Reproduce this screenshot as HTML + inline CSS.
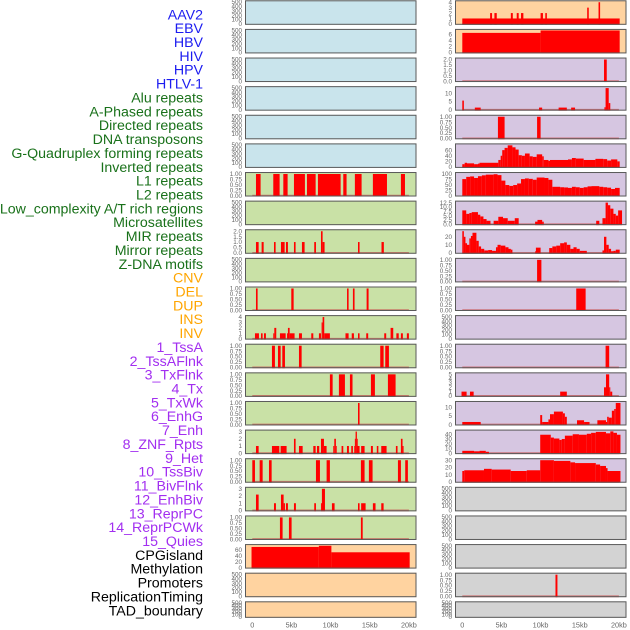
<!DOCTYPE html>
<html><head><meta charset="utf-8"><style>
html,body{margin:0;padding:0;background:#fff;}
svg{display:block;font-family:"Liberation Sans",sans-serif;}
</style></head><body>
<svg id="chart" width="630" height="630" viewBox="0 0 630 630" xmlns="http://www.w3.org/2000/svg"></svg>
<script>
const labelNames = ["AAV2","EBV","HBV","HIV","HPV","HTLV-1","Alu repeats","A-Phased repeats","Directed repeats","DNA transposons","G-Quadruplex forming repeats","Inverted repeats","L1 repeats","L2 repeats","Low_complexity A/T rich regions","Microsatellites","MIR repeats","Mirror repeats","Z-DNA motifs","CNV","DEL","DUP","INS","INV","1_TssA","2_TssAFlnk","3_TxFlnk","4_Tx","5_TxWk","6_EnhG","7_Enh","8_ZNF_Rpts","9_Het","10_TssBiv","11_BivFlnk","12_EnhBiv","13_ReprPC","14_ReprPCWk","15_Quies","CPGisland","Methylation","Promoters","ReplicationTiming","TAD_boundary"];
const labelGroups = [6,13,5,15,5];
const groupColors = ["#1c1cf0","#19711a","#ffa500","#a22ef0","#000000"];
const xTicks = [0,5,10,15,20];
const xTickLabels = ["0","5kb","10kb","15kb","20kb"];

const T500=[0,100,200,300,400,500], T1=[0,0.25,0.5,0.75,1], T2=[0,0.5,1,1.5,2], T3=[0,1,2,3], T4=[0,1,2,3,4], T5=[0,1,2,3,4,5], T6=[0,2,4,6], T10=[0,5,10], T12=[0,2.5,5,7.5,10,12.5], T20=[0,10,20], T30=[0,10,20,30], T40=[0,10,20,30,40], T60=[0,20,40,60], T100=[0,25,50,75,100];

const L6=[[0.47,1.06,1],[2.68,3.49,1],[3.96,4.51,1],[5.32,6.72,1],[6.98,8.09,1],[8.38,11.28,1],[11.62,12.04,1],[13.1,13.96,1],[15.4,17.2,1],[18.98,19.5,1]];
const L8=[[0.47,0.81,1],[1.19,1.45,1],[2.77,2.98,1],[3.66,4.13,1],[4.3,4.55,1],[5.32,5.53,1],[6.34,6.68,1],[7.91,8.13,1],[8.77,8.98,2],[8.98,9.23,1],[13.5,13.7,1],[16.5,16.8,1]];
const L10=[[0.47,0.68,1],[4.98,5.28,1],[12.1,12.3,1],[12.85,13.06,1],[14.6,14.85,1]];
const L11=[[0.34,0.85,1],[1.11,1.32,1],[1.49,1.74,1],[2.68,2.81,1],[2.81,3.06,2],[3.53,4.26,1],[4.43,4.55,1],[4.55,4.77,2],[4.77,5.4,1],[5.96,6.34,1],[7.53,7.79,1],[8.51,8.77,1],[8.85,8.98,3],[8.98,9.19,4],[9.19,9.91,1],[11.9,12.3,1],[12.7,12.98,1],[13.5,13.7,1],[14.55,14.8,1],[16.85,17.1,1],[17.66,18.0,2],[18.4,18.7,1],[18.98,19.23,1],[19.74,20.0,1]];
const L12=[[2.51,2.89,1],[3.28,3.62,1],[3.83,4.17,1],[5.96,6.3,1],[16.34,16.77,1],[16.98,17.45,1]];
const L13=[[9.91,10.26,1],[11.06,11.83,1],[12.47,12.8,1],[15.15,15.66,1],[17.32,18.3,1]];
const L14=[[13.5,13.7,1]];
const L15=[[0.47,0.81,1],[2.51,3.45,1],[3.62,4.38,1],[5.32,5.53,2],[5.96,6.43,1],[7.79,8.09,1],[8.26,8.55,1],[8.77,9.15,2],[9.15,9.49,1],[10.34,10.47,1],[10.47,10.68,2],[10.68,10.77,1],[11.4,11.62,1],[12.09,12.34,1],[12.64,12.85,1],[13.02,13.1,1],[13.1,13.19,2],[13.19,13.36,3],[13.36,13.4,2],[13.4,13.7,1],[13.9,14.34,1],[15.15,15.4,1],[15.9,16.1,1],[16.47,17.15,1],[18.34,18.55,1],[18.98,19.19,2],[19.19,19.32,1]];
const L16=[[0,0.34,1],[0.94,1.32,1],[2.13,2.47,1],[8.13,8.64,1],[9.49,9.91,1],[13.87,14.34,1],[14.89,15.36,1],[18.6,18.98,1],[19.53,19.87,1]];
const L17=[[0.47,0.81,2.2],[2.77,3.02,1],[3.66,4.0,2.2],[4.0,4.17,1],[4.3,4.55,1],[5.32,5.57,1],[7.91,8.13,1],[8.77,8.89,1],[8.89,9.28,3],[10.17,10.51,1],[13.5,13.7,1],[13.9,14.47,1],[15.4,15.74,1],[16.47,16.77,1]];
const L18=[[3.53,3.87,1],[4.68,5.02,1],[13.87,14.1,1]];
const L19=[[-0.1,8.5,70],[8.5,10.1,74],[10.1,20.1,52]];

const R0=[[0,20.1,1],[3.55,3.8,2],[4.1,4.4,2],[6.2,6.45,2],[6.95,7.2,2],[7.5,7.8,2],[10.0,10.3,2],[10.6,10.8,2],[15.95,16.15,3],[17.4,17.6,4]];
const R1=[[0,10,6.5],[10,20.1,7.3]];
const R2=[[18.1,18.45,2]];
const R3=[[0,0.2,5.5],[1.6,2.35,1.3],[9.8,10.2,1.3],[12.3,13.35,1.3],[13.9,14.4,1.3],[18.15,18.3,1.5],[18.3,18.7,13],[18.7,18.9,4]];
const R4=[[4.55,5.4,1],[9.55,10.0,1]];
const R5=[[0,0.3,10],[0.3,0.6,15],[0.6,1.5,13],[1.5,2,10],[2,2.2,12],[2.2,4.6,15],[4.6,4.9,25],[4.9,5.1,40],[5.1,5.4,60],[5.4,5.8,68],[5.8,6.4,77],[6.4,6.8,70],[6.8,7.2,62],[7.2,7.6,42],[7.6,8.0,40],[8.0,8.6,48],[8.6,9,38],[9,9.5,36],[9.5,10.2,45],[10.2,10.4,38],[10.4,11,25],[11,11.2,22],[11.2,13.5,25],[13.5,14,27],[14,14.5,32],[14.5,15.5,30],[15.5,17,25],[17,18,29],[18,18.5,28],[18.5,19,23],[19,19.8,27],[19.8,20.1,20]];
const R6=[[0,0.5,75],[0.5,1,85],[1,1.5,87],[1.5,2,80],[2,2.5,88],[2.5,3,92],[3,4,95],[4,4.5,97],[4.5,5,93],[5,5.5,68],[5.5,6,48],[6,6.5,44],[6.5,7,48],[7,7.5,55],[7.5,8,75],[8,8.5,78],[8.5,9,76],[9,9.5,72],[9.5,10.5,82],[10.5,11,80],[11,11.5,72],[11.5,12.5,40],[12.5,13,38],[13,13.5,37],[13.5,14,35],[14,14.5,40],[14.5,15,38],[15,15.5,35],[15.5,16,38],[16,16.5,42],[16.5,17.5,43],[17.5,18,40],[18,18.5,38],[18.5,19,36],[19,19.5,30],[19.5,20.1,35]];
const R7=[[0,0.5,8],[0.5,0.9,6],[0.9,1.2,6.5],[1.2,2.0,7],[2.0,2.3,5.5],[2.3,2.7,4.5],[2.7,3.1,3],[3.1,3.6,2],[4.0,4.6,2],[4.6,5.2,4.3],[5.2,5.8,3.5],[5.8,6.7,2],[6.7,7.2,3.5],[9.3,9.6,1.5],[9.6,10.2,2.5],[10.2,10.4,1.5],[17.1,17.5,2],[17.9,18.3,3.5],[18.3,18.6,12.5],[18.6,18.9,11],[18.9,19.3,9],[19.3,19.6,6],[19.6,19.9,5],[19.9,20.4,8]];
const R8=[[0,0.2,27],[0.2,0.4,20],[0.4,0.6,12],[0.6,0.9,10],[0.9,1.1,18],[1.1,1.3,21],[1.3,1.8,25],[1.8,2.1,15],[2.1,2.4,8],[2.4,2.8,5],[2.8,3.3,3],[3.3,3.8,3.5],[3.8,4.3,2.5],[4.3,4.5,7],[4.5,4.9,10],[4.9,5.5,9],[5.5,5.9,7],[5.9,6.2,5],[6.2,6.4,4],[9.3,9.4,2],[9.4,10.0,6.5],[11.1,11.5,6],[11.5,12,8],[12,12.5,9],[12.5,13,12],[13,13.35,13],[13.35,13.8,10],[13.8,14.2,5],[14.2,14.6,7],[14.6,15,5],[15,15.9,2.5],[17.9,18.1,3],[18.1,18.4,20],[18.4,18.7,10],[18.7,19,5],[19,19.3,2],[19.3,19.6,2.5],[19.6,20.1,4]];
const R9=[[9.55,10.1,1]];
const R10=[[14.55,15.75,1]];
const R12=[[18.3,18.76,1]];
const R13=[[-0.1,0.55,1],[0.98,1.45,1],[12.5,13.35,1],[18.1,18.35,2],[18.35,18.76,5],[18.76,18.9,2],[18.9,19.15,1]];
const R14=[[0,2.35,1.5],[9.95,10.2,5.5],[10.2,11.0,1.5],[11.0,11.2,3],[11.2,11.7,6],[11.7,12.85,7.5],[12.85,13.1,6.5],[13.1,13.35,4.5],[14.65,15.55,2.5],[15.55,16.25,1.5],[17.25,18.35,2.5],[18.35,18.5,1.5],[18.5,18.7,4.5],[18.7,19.1,4],[19.1,19.4,8],[19.4,19.6,9],[19.6,20.2,12.5]];
const R15=[[0,1.5,5],[1.5,2.2,4],[2.2,3.0,5],[3.0,3.4,3],[9.95,11.3,39],[11.3,11.7,33],[11.7,12.4,31],[12.4,12.7,28],[12.7,13.1,30],[13.1,14.1,37],[14.1,14.9,40],[14.9,15.9,39],[15.9,16.45,41],[16.45,17.05,43],[17.05,18.35,45],[18.35,18.9,42],[18.9,19.3,46],[19.3,19.75,43],[19.75,20.2,39]];
const R16=[[0,0.25,15],[0.25,2.77,16],[2.77,3.75,18],[3.75,6.18,17],[6.18,8.23,15],[8.23,9.95,16],[9.95,11.7,30],[11.7,13.8,29],[13.8,14.4,27],[14.4,17.05,26],[17.05,17.6,24],[17.6,18.35,22],[18.35,18.55,19],[18.55,20.2,15]];
const R20=[[11.9,12.15,1]];

const BG={blue:"#c9e4ec",green:"#c9e1a6",orange:"#ffd3a0",purple:"#d6c6e1",gray:"#d3d3d3"};
const panels=[
 [0,0,"blue",T500,null,null,"aav2-track"],[0,1,"blue",T500,null,null,"ebv-track"],[0,2,"blue",T500,null,null,"hbv-track"],[0,3,"blue",T500,null,null,"hiv-track"],[0,4,"blue",T500,null,null,"hpv-track"],[0,5,"blue",T500,null,null,"htlv-track"],
 [0,6,"green",T1,L6,1.04,"l1-track"],[0,7,"green",T500,null,null,"green-track-7"],[0,8,"green",T2,L8,2.08,"green-track-8"],[0,9,"green",T500,null,null,"green-track-9"],[0,10,"green",T1,L10,1.04,"green-track-10"],[0,11,"green",T4,L11,4.15,"green-track-11"],[0,12,"green",T1,L12,1.04,"green-track-12"],[0,13,"green",T1,L13,1.04,"green-track-13"],[0,14,"green",T1,L14,1.04,"green-track-14"],[0,15,"green",T3,L15,3.12,"green-track-15"],[0,16,"green",T1,L16,1.04,"green-track-16"],[0,17,"green",T3,L17,3.12,"green-track-17"],[0,18,"green",T1,L18,1.04,"green-track-18"],
 [0,19,"orange",T60,L19,76,"cpg-track"],[0,20,"orange",T500,null,null,"orange-track-20"],[0,21,"orange",T500,null,null,"orange-track-21"],
 [1,0,"orange",T4,R0,4.15,"right-track-0"],[1,1,"orange",T6,R1,7.45,"right-track-1"],[1,2,"purple",T2,R2,2.08,"right-track-2"],[1,3,"purple",T10,R3,13.5,"right-track-3"],[1,4,"purple",T1,R4,1.04,"right-track-4"],[1,5,"purple",T60,R5,80,"right-track-5"],[1,6,"purple",T100,R6,102,"right-track-6"],[1,7,"purple",T12,R7,13,"right-track-7"],[1,8,"purple",T20,R8,28,"right-track-8"],[1,9,"purple",T1,R9,1.04,"right-track-9"],[1,10,"purple",T1,R10,1.04,"right-track-10"],[1,11,"purple",T500,null,null,"right-track-11"],[1,12,"purple",T1,R12,1.04,"right-track-12"],[1,13,"purple",T5,R13,5.2,"right-track-13"],[1,14,"purple",T10,R14,13,"right-track-14"],[1,15,"purple",T40,R15,47.5,"right-track-15"],[1,16,"purple",T30,R16,31.2,"right-track-16"],
 [1,17,"gray",T500,null,null,"right-track-17"],[1,18,"gray",T500,null,null,"right-track-18"],[1,19,"gray",T500,null,null,"right-track-19"],[1,20,"gray",T1,R20,1.04,"right-track-20"],[1,21,"gray",T500,null,null,"right-track-21"]
];

const NS="http://www.w3.org/2000/svg";
const svg=document.getElementById("chart");
function mk(tag,attrs,parent){const e=document.createElementNS(NS,tag);for(const k in attrs)e.setAttribute(k,attrs[k]);(parent||svg).appendChild(e);return e;}

let li=0;
labelGroups.forEach((n,g)=>{for(let k=0;k<n;k++){const t=mk("text",{x:203,y:(19.3+13.86*li).toFixed(1),"text-anchor":"end","font-size":"14.2",fill:groupColors[g]});
t.textContent=labelNames[li];


li++;}});

const colX=[245,455], PW=171.5;
function xScale(col,kb){return colX[col]+7.3+kb*7.83;}
function fmt(ticks,v){if(ticks===T1)return v.toFixed(2);if(ticks===T2||ticks===T12)return v.toFixed(1);return String(v);}

panels.forEach(p=>{
  const [col,row,bg,ticks,series,topv,name]=p;
  const top=0.3+28.62*row, h=row===21?16.5:24.5;
  const g=mk("g",{});
  
  
  const tv=topv||510;
  const yScale=v=>top+h-0.9-v/tv*(h-2);
  const r=mk("rect",{x:colX[col],y:top,width:PW,height:h,fill:BG[bg]},g);
  
  
  ticks.forEach(v=>{const t=mk("text",{x:colX[col]-3,y:(yScale(v)+2.2).toFixed(1),"text-anchor":"end","font-size":"6.3",fill:"#666"},g);
    t.textContent=fmt(ticks,v);
    
    });
  if(series){
    const bl=mk("line",{x1:xScale(col,0),x2:xScale(col,20),y1:yScale(0),y2:yScale(0),stroke:"#c85050","stroke-width":1.8,opacity:0.7},g);
    
    
    series.forEach(s=>{const x0=xScale(col,s[0]),x1=xScale(col,s[1]),y=yScale(s[2]);
      const b=mk("rect",{x:x0.toFixed(2),y:y.toFixed(2),width:Math.max(0.8,x1-x0).toFixed(2),height:(top+h-y).toFixed(2),fill:"#ff0000"},g);
      
      });
  }
  const br=mk("rect",{x:colX[col]+0.5,y:top+0.5,width:PW-1,height:h-1,fill:"none",stroke:"#5a5a5a","stroke-width":1},g);
  
  
});

[0,1].forEach(col=>{xTicks.forEach((v,i)=>{const t=mk("text",{x:xScale(col,v),y:627.5,"text-anchor":"middle","font-size":"7.3",fill:"#666"});
  t.textContent=xTickLabels[i];
  
  });});
</script>
</body></html>
